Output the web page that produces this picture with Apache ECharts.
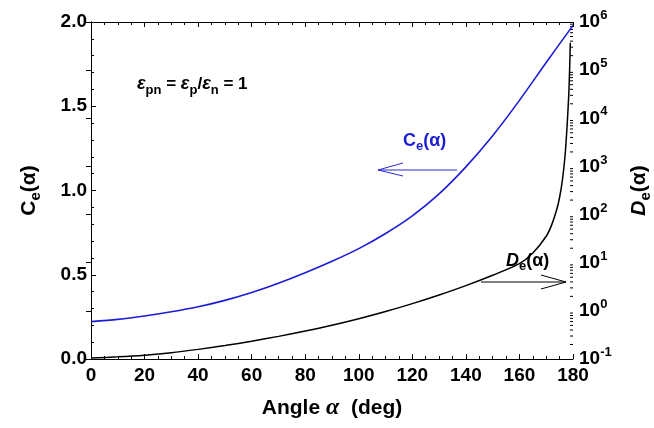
<!DOCTYPE html>
<html>
<head>
<meta charset="utf-8">
<script src="https://cdn.jsdelivr.net/npm/echarts@6/dist/echarts.min.js"></script>
<style>html,body{margin:0;padding:0;background:#fff}#c{width:654px;height:428px}</style>
</head>
<body>
<div id="c"></div>
<script>
// ---- data ----
const alphaC = [0,10,20,30,40,50,60,70,80,90,100,110,120,130,140,150,160,170,180];
const ceValues = [0.222,0.235,0.255,0.280,0.310,0.348,0.395,0.450,0.512,0.580,0.655,0.745,0.850,0.980,1.140,1.325,1.535,1.760,1.980];
const alphaD = [0,10,20,30,40,50,60,70,80,90,100,110,120,130,140,150,160,165,170,172,174,175,176,177,177.8,178.5,179];
const deValues = [0.1047,0.1109,0.1202,0.1349,0.1585,0.1905,0.2344,0.2951,0.3802,0.5012,0.6839,0.9661,1.413,2.138,3.350,5.495,9.55,15.85,35.5,60.3,131.8,229,501,1585,7079,39811,371535];
const xTicks = [0,20,40,60,80,100,120,140,160,180];
const leftTicks = [0.0,0.5,1.0,1.5,2.0];
const rightExponents = [-1,0,1,2,3,4,5,6];

const FONT = '"Liberation Sans", Arial, sans-serif';
const chart = echarts.init(document.getElementById('c'), null, {renderer:'canvas'});

// log minor tick positions (2..9 x 10^n)
const logMinor = [];
for (let i = 0; i < rightExponents.length - 1; i++) {
  for (let k = 2; k <= 9; k++) logMinor.push([180, k * Math.pow(10, rightExponents[i])]);
}

const option = {
  animation: false,
  backgroundColor: '#fff',
  grid: {left: 91, right: 81, top: 22, bottom: 69, containLabel: false, outerBoundsMode: 'none'},
  xAxis: [{
    type: 'value', min: xTicks[0], max: xTicks[xTicks.length-1], interval: 20,
    position: 'bottom',
    axisLine: {lineStyle: {color: '#000', width: 1}},
    axisTick: {inside: true, length: 5, lineStyle: {color: '#000'}},
    minorTick: {show: true, splitNumber: 4, length: 3, lineStyle: {color: '#000'}},
    splitLine: {show: false},
    axisLabel: {color: '#000', fontFamily: FONT, fontWeight: 'bold', fontSize: 19, margin: 7},
    name: '{t|Angle }{a|α}{t|  (deg)}', nameLocation: 'middle', nameGap: 37,
    nameTextStyle: {rich: {
      t: {fontFamily: FONT, fontWeight: 'bold', fontSize: 21, color: '#000'},
      a: {fontFamily: '"Liberation Serif", serif', fontStyle: 'italic', fontWeight: 'bold', fontSize: 24, color: '#000'}
    }}
  }, {
    type: 'value', min: 0, max: 180, interval: 20, position: 'top',
    axisLine: {lineStyle: {color: '#000', width: 1}},
    axisTick: {inside: true, length: 5, lineStyle: {color: '#000'}},
    minorTick: {show: true, splitNumber: 4, length: 3, lineStyle: {color: '#000'}},
    splitLine: {show: false}, axisLabel: {show: false}
  }],
  yAxis: [{
    type: 'value', min: 0, max: 2, interval: 0.5, position: 'left',
    axisLine: {show: true, lineStyle: {color: '#000', width: 1}},
    axisTick: {show: true, inside: true, length: 5, lineStyle: {color: '#000'}},
    minorTick: {show: true, splitNumber: 5, length: 3, lineStyle: {color: '#000'}},
    splitLine: {show: false},
    axisLabel: {color: '#000', fontFamily: FONT, fontWeight: 'bold', fontSize: 19, margin: 4,
      formatter: v => v.toFixed(1)},
    name: '{c|C}{s|e}{c|(α)}', nameLocation: 'middle', nameGap: 48, nameRotate: 90,
    nameTextStyle: {rich: {
      c: {fontFamily: FONT, fontWeight: 'bold', fontSize: 21, color: '#000', lineHeight: 28, verticalAlign: 'middle'},
      s: {fontFamily: FONT, fontWeight: 'bold', fontSize: 15, color: '#000', lineHeight: 15, verticalAlign: 'bottom'}
    }}
  }, {
    type: 'log', logBase: 10, min: 0.1, max: 1e6, position: 'right',
    axisLine: {show: true, lineStyle: {color: '#000', width: 1}},
    axisTick: {show: true, inside: true, length: 5, lineStyle: {color: '#000'}},
    minorTick: {show: false},
    splitLine: {show: false},
    axisLabel: {fontFamily: FONT, margin: 6,
      formatter: v => '{b|10}{s|' + Math.round(Math.log10(v)) + '}',
      rich: {
        b: {fontFamily: FONT, fontWeight: 'bold', fontSize: 19, color: '#000', lineHeight: 26, verticalAlign: 'middle'},
        s: {fontFamily: FONT, fontWeight: 'bold', fontSize: 13, color: '#000', lineHeight: 13, verticalAlign: 'top'}
      }},
    name: '{d|D}{s|e}{c|(α)}', nameLocation: 'middle', nameGap: 52, nameRotate: 90,
    nameTextStyle: {rich: {
      d: {fontFamily: FONT, fontWeight: 'bold', fontStyle: 'italic', fontSize: 21, color: '#000', lineHeight: 28, verticalAlign: 'middle'},
      c: {fontFamily: FONT, fontWeight: 'bold', fontSize: 21, color: '#000', lineHeight: 28, verticalAlign: 'middle'},
      s: {fontFamily: FONT, fontWeight: 'bold', fontSize: 15, color: '#000', lineHeight: 15, verticalAlign: 'bottom'}
    }}
  }],
  series: [{
    name: 'Ce', type: 'line', xAxisIndex: 0, yAxisIndex: 0,
    data: alphaC.map((a, i) => [a, ceValues[i]]),
    smooth: 0.3, showSymbol: false, symbol: 'none',
    lineStyle: {color: '#1c1cd6', width: 1.6}
  }, {
    name: 'De', type: 'line', xAxisIndex: 0, yAxisIndex: 1,
    data: alphaD.map((a, i) => [a, deValues[i]]),
    smooth: 0.3, showSymbol: false, symbol: 'none',
    lineStyle: {color: '#000', width: 1.5}
  }, {
    type: 'custom', xAxisIndex: 0, yAxisIndex: 1, silent: true, clip: false,
    data: logMinor,
    renderItem: (params, api) => {
      const p = api.coord([api.value(0), api.value(1)]);
      return {type: 'line', shape: {x1: p[0] - 3, y1: p[1], x2: p[0], y2: p[1]},
        style: {stroke: '#000', lineWidth: 1}};
    }
  }],
  graphic: [
    {type: 'text', left: 137, top: 75, style: {
      text: '{e|ε}{s|pn}{t| = }{e|ε}{s|p}{t|/}{e|ε}{s|n}{t| = 1}',
      rich: {
        e: {fontFamily: FONT, fontWeight: 'bold', fontStyle: 'italic', fontSize: 18, fill: '#000', lineHeight: 25, verticalAlign: 'middle'},
        t: {fontFamily: FONT, fontWeight: 'bold', fontSize: 17, fill: '#000', lineHeight: 25, verticalAlign: 'middle'},
        s: {fontFamily: FONT, fontWeight: 'bold', fontSize: 13, fill: '#000', lineHeight: 13, verticalAlign: 'bottom'}
      }}},
    {type: 'text', left: 403, top: 132, style: {
      text: '{c|C}{s|e}{c|(α)}',
      rich: {
        c: {fontFamily: FONT, fontWeight: 'bold', fontSize: 18, fill: '#1c1cd6', lineHeight: 24, verticalAlign: 'middle'},
        s: {fontFamily: FONT, fontWeight: 'bold', fontSize: 13, fill: '#1c1cd6', lineHeight: 13, verticalAlign: 'bottom'}
      }}},
    {type: 'polyline', shape: {points: [[457, 170], [378, 170]]}, style: {stroke: '#2a2ad0', lineWidth: 1, fill: null}},
    {type: 'polyline', shape: {points: [[403, 163], [378, 170], [403, 176]]}, style: {stroke: '#2a2ad0', lineWidth: 1, fill: null}},
    {type: 'text', left: 506, top: 252, style: {
      text: '{d|D}{s|e}{c|(α)}',
      rich: {
        d: {fontFamily: FONT, fontWeight: 'bold', fontStyle: 'italic', fontSize: 18, fill: '#000', lineHeight: 24, verticalAlign: 'middle'},
        c: {fontFamily: FONT, fontWeight: 'bold', fontSize: 18, fill: '#000', lineHeight: 24, verticalAlign: 'middle'},
        s: {fontFamily: FONT, fontWeight: 'bold', fontSize: 13, fill: '#000', lineHeight: 13, verticalAlign: 'bottom'}
      }}},
    {type: 'polyline', shape: {points: [[481, 282], [566, 282]]}, style: {stroke: '#000', lineWidth: 1, fill: null}},
    {type: 'polyline', shape: {points: [[541, 275], [566, 282], [541, 289]]}, style: {stroke: '#000', lineWidth: 1, fill: null}}
  ]
};
chart.setOption(option);
</script>
</body>
</html>
